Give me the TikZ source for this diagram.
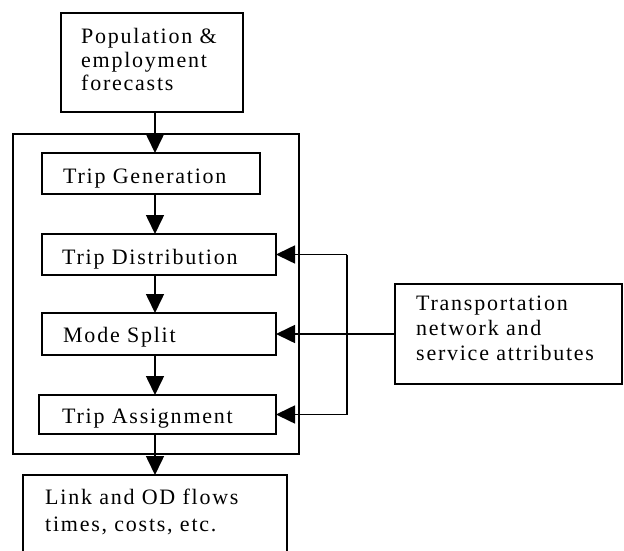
\documentclass[tikz,border=0pt]{standalone}
\usepackage{fontspec}
\setmainfont{Liberation Serif}[LetterSpace=8]
\usetikzlibrary{arrows.meta}
\begin{document}
\begin{tikzpicture}[x=1pt,y=-1pt,
  box/.style={draw, line width=1.6pt, inner sep=0pt, outer sep=0pt, rectangle},
  txt/.style={anchor=base west, inner sep=0pt, font=\fontsize{22}{24}\selectfont},
  arr/.style={line width=1.6pt, -{Triangle[width=18pt,length=19pt]}},
  ln/.style={line width=1.6pt}]
\useasboundingbox (0,0) rectangle (624,551);
\clip (0,0) rectangle (624,551);
\coordinate (spine) at (155,0);
% boxes
\node[box, minimum width=182pt, minimum height=99pt] (top) at (152,62.5) {};
\node[box, minimum width=286pt, minimum height=320pt] (cont) at (156,294) {};
\node[box, minimum width=218pt, minimum height=41pt] (gen) at (151,173.5) {};
\node[box, minimum width=234pt, minimum height=41pt] (dist) at (159,254.5) {};
\node[box, minimum width=234pt, minimum height=42pt] (mode) at (159,334) {};
\node[box, minimum width=237pt, minimum height=39pt] (assign) at (157.5,414.5) {};
\node[box, minimum width=264pt, minimum height=110pt] (link) at (155,530) {};
\node[box, minimum width=227pt, minimum height=100pt] (trans) at (508.5,334) {};
% texts
\node[txt] (t1) at (81,44) {Population \&};
\node[txt] (t2) at (81,67.5) {employment};
\node[txt] (t3) at (81,91) {forecasts};
\node[txt] (tgen) at (63,183) {Trip Generation};
\node[txt] (tdist) at (62,264) {Trip Distribution};
\node[txt] (tmode) at (63,342) {Mode Split};
\node[txt] (tassign) at (62,423) {Trip Assignment};
\node[txt] (tr1) at (416,310) {Transportation};
\node[txt] (tr2) at (416,335) {network and};
\node[txt] (tr3) at (416,360) {service attributes};
\node[txt] (l1) at (45,504) {Link and OD flows};
\node[txt] (l2) at (45,531) {times, costs, etc.};
% vertical flow
\draw[arr] (top.south -| spine) -- (gen.north -| spine);
\draw[arr] (gen.south -| spine) -- (dist.north -| spine);
\draw[arr] (dist.south -| spine) -- (mode.north -| spine);
\draw[arr] (mode.south -| spine) -- (assign.north -| spine);
\draw[arr] (assign.south -| spine) -- (link.north -| spine);
% feedback
\coordinate (fbtop) at (347,254.5);
\coordinate (fbbot) at (347,414.5);
\draw[ln] (fbtop) -- (fbbot);
\draw[arr] (fbtop) -- (dist.east);
\draw[arr] (fbbot) -- (assign.east);
\draw[arr] (trans.west) -- (mode.east);
\end{tikzpicture}
\end{document}
